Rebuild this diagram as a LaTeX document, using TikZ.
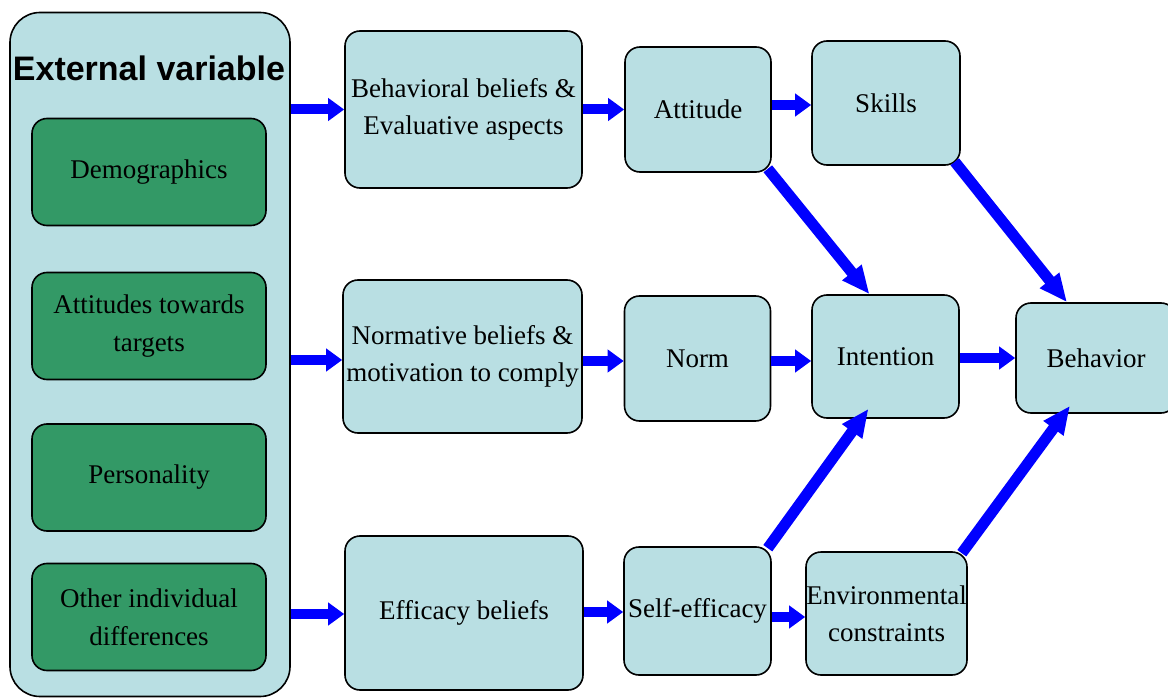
\documentclass[tikz,border=0pt]{standalone}
\usepackage{fontspec}
\setmainfont{Liberation Serif}
\newfontfamily\titlefont{Liberation Sans}
\usetikzlibrary{arrows.meta,calc}
\definecolor{boxblue}{HTML}{B9DFE3}
\definecolor{boxgreen}{HTML}{339966}
\definecolor{arrblue}{HTML}{0000FF}
\tikzset{
  bluebox/.style={draw=black, line width=1.6pt, fill=boxblue, rounded corners=15pt,
    inner sep=0pt, align=center, font={\fontsize{27}{37}\selectfont}},
  greenbox/.style={draw=black, line width=1.6pt, fill=boxgreen, rounded corners=15pt,
    inner sep=0pt, align=center, font={\fontsize{27}{38}\selectfont},
    minimum width=234pt, minimum height=107pt},
  arr/.style={draw=arrblue, line width=10pt, -{Triangle[length=16pt,width=22pt]}},
  darr/.style={draw=arrblue, line width=11pt, -{Triangle[length=28pt,width=23pt]}}
}
\begin{document}
\begin{tikzpicture}[x=1pt,y=-1pt]
\useasboundingbox (0,0) rectangle (1168,698);
% outer box
\node[bluebox, rounded corners=30pt, minimum width=280pt, minimum height=684pt] (ext) at (150,354.5) {};
\node[font={\titlefont\bfseries\fontsize{34}{38}\selectfont}, inner sep=0pt] (title) at (149,68) {External variable};
% green boxes
\node[greenbox] (demo) at (149,172) {Demographics};
\node[greenbox] (atttarg) at (149,326) {Attitudes towards\\targets};
\node[greenbox] (pers) at (149,477.5) {Personality};
\node[greenbox] (other) at (149,617) {Other individual\\differences};
% column 2
\node[bluebox, minimum width=237pt, minimum height=157pt] (behbel) at (463.5,109.5) {Behavioral beliefs \&\\Evaluative aspects};
\node[bluebox, minimum width=239pt, minimum height=153pt] (normbel) at (462.5,356.5) {Normative beliefs \&\\motivation to comply};
\node[bluebox, minimum width=238pt, minimum height=154pt] (effbel) at (464,613) {Efficacy beliefs};
% column 3
\node[bluebox, minimum width=146pt, minimum height=125pt] (attitude) at (698,109.5) {Attitude};
\node[bluebox, minimum width=146pt, minimum height=125pt] (norm) at (697.5,358.5) {Norm};
\node[bluebox, minimum width=147pt, minimum height=128pt] (selfeff) at (697.5,611) {Self-efficacy};
% column 4
\node[bluebox, minimum width=148pt, minimum height=124pt] (skills) at (886,103) {Skills};
\node[bluebox, minimum width=147pt, minimum height=123pt] (intention) at (885.5,356.5) {Intention};
\node[bluebox, minimum width=161pt, minimum height=123pt] (env) at (886.5,613.5) {Environmental\\constraints};
% column 5
\node[bluebox, minimum width=160pt, minimum height=110pt] (behavior) at (1096,358) {Behavior};
% horizontal arrows
\draw[arr] (ext.east |- behbel.west) -- (behbel.west);
\draw[arr] (ext.east |- 0,360) -- (normbel.west |- 0,360);
\draw[arr] (ext.east |- 0,614) -- (effbel.west |- 0,614);
\draw[arr] (behbel.east) -- (attitude.west |- behbel.east);
\draw[arr] (attitude.east |- 0,105) -- (skills.west |- 0,105);
\draw[arr] (normbel.east |- 0,361) -- (norm.west |- 0,361);
\draw[arr] (norm.east |- 0,361) -- (intention.west |- 0,361);
\draw[arr] (intention.east |- 0,358) -- (behavior.west |- 0,358);
\draw[arr] (effbel.east |- 0,612) -- (selfeff.west |- 0,612);
\draw[arr] (selfeff.east |- 0,617) -- (env.west |- 0,617);
% diagonal arrows
\draw[darr] ([xshift=-4pt,yshift=4pt]attitude.south east) -- ([xshift=-16pt]intention.north);
\draw[darr] ([xshift=-6pt,yshift=4pt]skills.south east) -- ([xshift=-29pt]behavior.north);
\draw[darr] ([xshift=-4pt,yshift=-2pt]selfeff.north east) -- ([xshift=-17pt,yshift=10pt]intention.south);
\draw[darr] ([xshift=-6pt,yshift=-2pt]env.north east) -- ([xshift=-26pt,yshift=8pt]behavior.south);
\end{tikzpicture}
\end{document}
